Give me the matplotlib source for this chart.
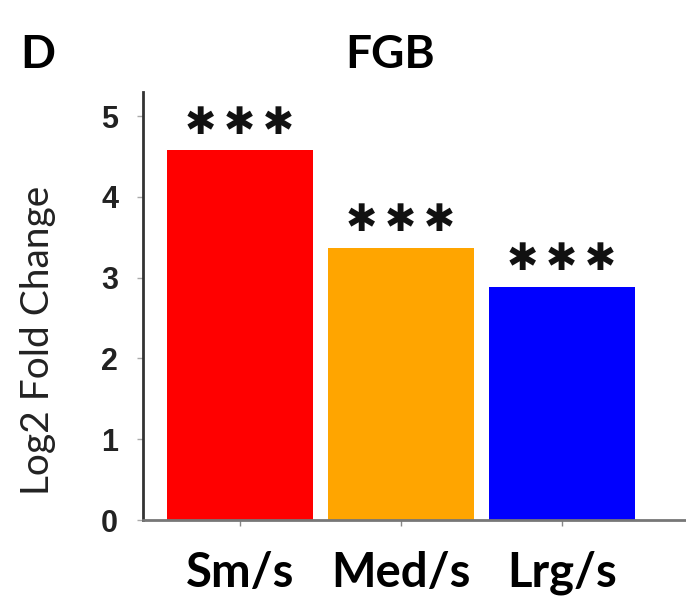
import matplotlib
matplotlib.use("Agg")
import matplotlib.pyplot as plt

groups = ["Sm/s", "Med/s", "Lrg/s"]
log2_fc = [4.58, 3.37, 2.89]
signif = ["***", "***", "***"]
bar_colors = ["#ff0000", "#ffa500", "#0000ff"]
yticks = [0, 1, 2, 3, 4, 5]

fig = plt.figure(figsize=(6.86, 6.08), dpi=100)
ax = fig.add_axes([143 / 686, 88 / 608, 543 / 686, 428 / 608])

xs = range(len(groups))
ax.bar(xs, log2_fc, width=0.906, color=bar_colors, zorder=2)

# significance stars drawn with the heavy asterisk glyph, thin-spaced
for x, h, s in zip(xs, log2_fc, signif):
    ax.annotate("\u2009".join("\u2731" for _ in s), (x, h), xytext=(0, 19),
                textcoords="offset points", ha="center", va="center", fontsize=27,
                family="DejaVu Sans", color="#111111")

ax.set_xlim(-0.602, 2.77)
ax.set_ylim(0, 5.3)
ax.set_yticks(yticks)
ax.set_xticks(list(xs))
ax.set_xticklabels(groups, family="Lato", fontweight="bold", fontsize=34)
ax.set_yticklabels([str(t) for t in yticks], family="Liberation Sans",
                   fontweight="bold", fontsize=22, color="#222222")

for side in ["top", "right"]:
    ax.spines[side].set_visible(False)
ax.spines["left"].set_color("#333333")
ax.spines["left"].set_linewidth(2)
ax.spines["bottom"].set_color("#777777")
ax.spines["bottom"].set_linewidth(2)
ax.tick_params(axis="y", length=4, width=1, color="#aaaaaa", pad=14)
ax.tick_params(axis="x", length=4, width=1, color="#888888", pad=18)

fig.text(38 / 686, 1 - 340 / 608, "Log2 Fold Change", rotation=90, family="Lato",
         fontsize=28, ha="center", va="center", color="#222222")
fig.text(390 / 686, 1 - 68 / 608, "FGB", family="Lato", fontweight="bold",
         fontsize=33, ha="center", va="baseline")
fig.text(20 / 686, 1 - 68 / 608, "D", family="Lato", fontweight="bold",
         fontsize=33, ha="left", va="baseline")

fig.savefig("out.png", dpi=100)
plt.close(fig)
